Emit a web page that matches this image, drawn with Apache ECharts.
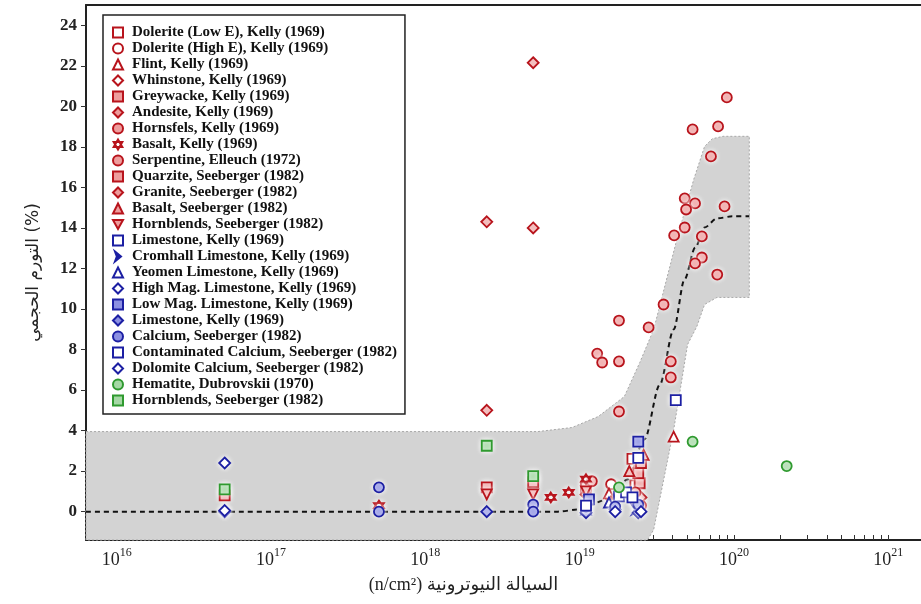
<!DOCTYPE html>
<html><head><meta charset="utf-8">
<script src="https://cdn.jsdelivr.net/npm/echarts@6/dist/echarts.min.js"></script>
<style>html,body{margin:0;padding:0;background:#fff}#c{width:921px;height:604px}</style>
</head><body><div id="c"></div>
<script>
// ---- tick labels ----
const xTickExponents = [16, 17, 18, 19, 20, 21];
const yTickLabels = [0, 2, 4, 6, 8, 10, 12, 14, 16, 18, 20, 22, 24];

// ---- shaded band (log10 flux, swelling %) ----
const bandLogFlux  = [15.8, 18.73, 18.95, 19.12, 19.29, 19.39, 19.48, 19.63, 19.74, 19.81, 19.86, 19.93, 20.10, 20.10, 19.89, 19.81, 19.76, 19.70, 19.61, 19.48, 19.44, 15.8];
const bandSwelling = [3.95, 3.95, 4.15, 4.69, 5.68, 7.36, 8.99, 13.43, 16.4, 18.02, 18.4, 18.52, 18.52, 10.57, 10.57, 10.22, 9.14, 8.25, 4.05, -0.89, -1.4, -1.4];

// ---- dashed trend curve ----
const trendLogFlux  = [15.8, 18.86, 18.99, 19.18, 19.31, 19.42, 19.52, 19.61, 19.68, 19.75, 19.81, 19.89, 19.99, 20.10];
const trendSwelling = [0, 0, 0.1, 0.59, 1.58, 3.56, 6.27, 8.99, 11.46, 13.04, 14.02, 14.47, 14.57, 14.57];

// ---- data: [fluence n/cm2, swelling %] ----
const doleriteLowE   = [[2.3e19, 1.3], [2.2e19, 2.6]];
const doleriteHighE  = [[1.6e19, 1.35], [2.4e19, 2.1]];
const flint          = [[1.55e19, 0.9], [4.07e19, 3.7]];
const whinstone      = [[2.3e19, 0.6]];
const greywacke      = [[1.1e19, 1.2], [2.45e19, 1.4], [2.4e19, 1.9]];
const andesite       = [[1.1e19, 0.85], [2.5e19, 0.7]];
const hornsfels      = [[1.2e19, 1.5], [2.3e19, 0.95], [2.5e19, 0.3]];
const basaltKelly    = [[5e17, 0.3], [6.5e18, 0.7], [8.5e18, 0.95], [1.1e19, 1.6], [1.6e19, 0.5]];
const serpentine     = [[9.0e19, 20.44], [5.4e19, 18.86], [7.9e19, 19.01], [7.1e19, 17.53], [4.8e19, 15.46], [5.6e19, 15.21], [4.9e19, 14.91], [8.7e19, 15.06], [4.8e19, 14.02], [4.1e19, 13.63], [6.2e19, 13.58], [6.2e19, 12.54], [5.6e19, 12.25], [7.8e19, 11.70], [3.5e19, 10.22], [1.8e19, 9.43], [2.8e19, 9.09], [1.3e19, 7.80], [1.4e19, 7.36], [1.8e19, 7.41], [3.9e19, 7.41], [3.9e19, 6.62], [1.8e19, 4.94]];
const quarzite       = [[5e16, 0.8], [2.5e18, 1.2], [5e18, 1.45], [2.5e19, 2.4]];
const granite        = [[2.5e18, 14.3], [5e18, 22.15], [5e18, 14.0], [2.5e18, 5.0]];
const basaltSeeb     = [[2.1e19, 2.0], [2.6e19, 2.8]];
const hornblendsRed  = [[2.5e18, 0.85], [5e18, 0.85], [1.1e19, 1.0], [2.2e19, 0.55]];
const limestoneK1    = [[1.8e19, 0.75], [2.0e19, 0.95], [4.2e19, 5.5]];
const cromhall       = [[2.35e19, 0.1]];
const yeomen         = [[1.1e19, 0.1], [1.55e19, 0.45]];
const highMag        = [[5e16, 2.4], [1.7e19, 0.1]];
const lowMag         = [[1.15e19, 0.6], [2.4e19, 3.45]];
const limestoneK2    = [[5e16, 0], [2.5e18, 0], [1.1e19, -0.05], [2.4e19, -0.05]];
const calcium        = [[5e17, 1.2], [5e17, 0], [5e18, 0.35], [5e18, 0], [1.1e19, 0.25], [1.7e19, 0.25], [2.4e19, 0.35]];
const contamCalcium  = [[1.1e19, 0.3], [2.4e19, 2.65], [2.2e19, 0.7]];
const dolomite       = [[5e16, 0.05], [1.7e19, 0], [2.5e19, 0]];
const hematite       = [[1.8e19, 1.2], [5.4e19, 3.45], [2.2e20, 2.25]];
const hornblendsGrn  = [[5e16, 1.1], [2.5e18, 3.25], [5e18, 1.75]];

const RED = '#b8141c', RED_F = '#ee9d9d';
const BLUE = '#1c1fa3', BLUE_F = '#8c90e2';
const GRN = '#2f9a2f', GRN_F = '#a5d8a5';
const INV_TRI = 'path://M0,0L10,0L5,9Z';
const STAR6 = 'path://M5,0L9.33,7.5L0.67,7.5Z M5,10L9.33,2.5L0.67,2.5Z';
const CHEVRON = 'path://M0,0L6,5L0,10L1.8,5Z';

const seriesDefs = [
  ['Dolerite (Low E), Kelly (1969)', doleriteLowE, 'rect', RED, '#fff'],
  ['Dolerite (High E), Kelly (1969)', doleriteHighE, 'circle', RED, '#fff'],
  ['Flint, Kelly (1969)', flint, 'triangle', RED, '#fff'],
  ['Whinstone, Kelly (1969)', whinstone, 'diamond', RED, '#fff'],
  ['Greywacke, Kelly (1969)', greywacke, 'rect', RED, RED_F],
  ['Andesite, Kelly (1969)', andesite, 'diamond', RED, RED_F],
  ['Hornsfels, Kelly (1969)', hornsfels, 'circle', RED, RED_F],
  ['Basalt, Kelly (1969)', basaltKelly, STAR6, RED, RED_F],
  ['Serpentine, Elleuch (1972)', serpentine, 'circle', RED, RED_F],
  ['Quarzite, Seeberger (1982)', quarzite, 'rect', RED, RED_F],
  ['Granite, Seeberger (1982)', granite, 'diamond', RED, RED_F],
  ['Basalt, Seeberger (1982)', basaltSeeb, 'triangle', RED, RED_F],
  ['Hornblends, Seeberger (1982)', hornblendsRed, INV_TRI, RED, RED_F],
  ['Limestone, Kelly (1969)', limestoneK1, 'rect', BLUE, '#fff'],
  ['Cromhall Limestone, Kelly (1969)', cromhall, CHEVRON, BLUE, BLUE],
  ['Yeomen Limestone, Kelly (1969)', yeomen, 'triangle', BLUE, '#fff'],
  ['High Mag. Limestone, Kelly (1969)', highMag, 'diamond', BLUE, '#fff'],
  ['Low Mag. Limestone, Kelly (1969)', lowMag, 'rect', BLUE, BLUE_F],
  ['Limestone, Kelly (1969)\u200b', limestoneK2, 'diamond', BLUE, BLUE_F],
  ['Calcium, Seeberger (1982)', calcium, 'circle', BLUE, BLUE_F],
  ['Contaminated Calcium, Seeberger (1982)', contamCalcium, 'rect', BLUE, '#fff'],
  ['Dolomite Calcium, Seeberger (1982)', dolomite, 'diamond', BLUE, '#fff'],
  ['Hematite, Dubrovskii (1970)', hematite, 'circle', GRN, GRN_F],
  ['Hornblends, Seeberger (1982)\u200b', hornblendsGrn, 'rect', GRN, GRN_F]
];

const xMin = 15.8, xMax = 21.213, yMin = -1.4, yMax = 25;
const minorTicks = [];
for (let e = 15; e <= 21; e++) for (let k = 1; k <= 9; k++) {
  const v = e + Math.log10(k);
  if (v >= xMin && v <= xMax) minorTicks.push(v);
}

const scatterSeries = seriesDefs.map(([name, pts, sym, stroke, fill]) => ({
  name, type: 'scatter', z: 5,
  symbol: sym, symbolSize: sym === 'diamond' ? 11 : 10,
  data: pts.map(p => [Math.log10(p[0]), p[1]]),
  itemStyle: { color: fill, borderColor: stroke, borderWidth: 1.8, shadowColor: '#ffffff', shadowBlur: 5, opacity: 1 },
  emphasis: { disabled: true }
}));

const chart = echarts.init(document.getElementById('c'), null, { renderer: 'canvas' });
chart.setOption({
  animation: false,
  backgroundColor: '#fff',
  grid: { left: 86, right: -4, top: 5, bottom: 64, show: false },
  xAxis: [{
    type: 'value', min: xMin, max: xMax,
    axisLine: { show: true, onZero: false, lineStyle: { color: '#222', width: 2 } },
    splitLine: { show: false },
    axisTick: { show: true, inside: true, length: 5, customValues: minorTicks, lineStyle: { color: '#333', width: 1 } },
    axisLabel: {
      customValues: xTickExponents, margin: 7,
      formatter: v => '{b|10}{s|' + Math.round(v) + '}',
      rich: {
        b: { fontFamily: 'Liberation Serif', fontSize: 18, color: '#222', lineHeight: 22, verticalAlign: 'bottom' },
        s: { fontFamily: 'Liberation Serif', fontSize: 12, color: '#222', lineHeight: 22, verticalAlign: 'top', padding: [0, 0, 10, 0] }
      }
    },
    name: '(n/cm\u00b2) السيالة النيوترونية',
    nameLocation: 'middle', nameGap: 36,
    nameTextStyle: { fontFamily: 'Liberation Serif, DejaVu Sans', fontSize: 18, color: '#222', padding: [0, 80, 0, 0] }
  }, {
    type: 'value', position: 'top', min: xMin, max: xMax,
    axisLine: { show: true, onZero: false, lineStyle: { color: '#222', width: 2 } },
    axisTick: { show: false }, axisLabel: { show: false }, splitLine: { show: false }
  }],
  yAxis: {
    type: 'value', min: yMin, max: yMax,
    axisLine: { show: true, onZero: false, lineStyle: { color: '#222', width: 2 } },
    splitLine: { show: false },
    axisTick: { show: true, inside: false, length: 5, customValues: yTickLabels, lineStyle: { color: '#333' } },
    axisLabel: { customValues: yTickLabels, margin: 9, fontFamily: 'Liberation Serif', fontWeight: 'bold', fontSize: 17, color: '#222' },
    name: 'التورم الحجمي (%)',
    nameLocation: 'middle', nameGap: 44, nameRotate: 90,
    nameTextStyle: { fontFamily: 'DejaVu Sans', fontSize: 17, color: '#222' }
  },
  legend: {
    orient: 'vertical', left: 103, top: 15,
    data: seriesDefs.map(d => d[0]),
    backgroundColor: '#fff', borderColor: '#222', borderWidth: 1.5,
    padding: [10, 8, 6, 9], itemGap: 1, itemWidth: 10, itemHeight: 10,
    textStyle: { fontFamily: 'Liberation Serif', fontWeight: 'bold', fontSize: 15, color: '#111', lineHeight: 14, padding: [0, 0, 0, 4] },
    selectedMode: false
  },
  series: [
    {
      type: 'custom', name: 'band', z: 1, silent: true,
      data: [0],
      renderItem: (params, api) => {
        const pts = bandLogFlux.map((x, i) => api.coord([x, bandSwelling[i]]));
        return { type: 'polygon', shape: { points: pts },
          style: { fill: '#d3d3d3', stroke: '#a8a8a8', lineWidth: 1, lineDash: [2, 2] } };
      }
    },
    {
      type: 'line', name: 'trend', z: 3, silent: true,
      data: trendLogFlux.map((x, i) => [x, trendSwelling[i]]),
      symbol: 'none', smooth: 0.3, smoothMonotone: 'x',
      lineStyle: { color: '#111', width: 2, type: [5, 4] }
    },
    ...scatterSeries
  ]
});
</script></body></html>
